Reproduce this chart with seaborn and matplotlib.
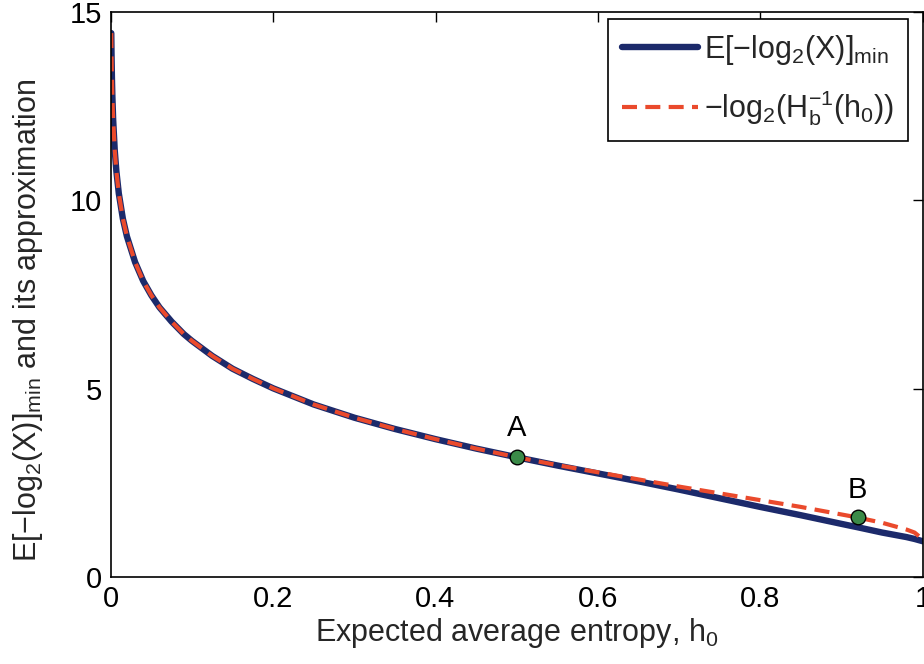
import numpy as np
import pandas as pd
import matplotlib
matplotlib.use("Agg")
import matplotlib.pyplot as plt
import seaborn as sns

# ---- data ----
h0 = [0.0007, 0.001, 0.0015, 0.002, 0.003, 0.005, 0.007, 0.01, 0.015, 0.02, 0.03,
      0.04, 0.05, 0.06, 0.075, 0.09, 0.1, 0.125, 0.15, 0.175, 0.2, 0.25,
      0.3, 0.35, 0.4, 0.45, 0.5, 0.55, 0.6, 0.65, 0.7, 0.75, 0.8, 0.85, 0.9,
      0.92, 0.95, 0.98, 0.99, 1.0]
approx_vals = [14.44, 13.91, 13.26, 12.80, 12.15, 11.32, 10.77, 10.18, 9.51, 9.04, 8.36,
               7.86, 7.48, 7.16, 6.78, 6.45, 6.27, 5.87, 5.53, 5.26, 5.01, 4.58,
               4.23, 3.93, 3.66, 3.41, 3.18, 2.97, 2.78, 2.59, 2.40, 2.22,
               2.04, 1.86, 1.66, 1.58, 1.44, 1.26, 1.18, 1.00]
emin_vals = [14.44, 13.91, 13.26, 12.80, 12.15, 11.32, 10.77, 10.18, 9.51, 9.04, 8.36,
             7.86, 7.48, 7.16, 6.78, 6.45, 6.27, 5.87, 5.53, 5.26, 5.01, 4.58,
             4.23, 3.93, 3.66, 3.41, 3.18, 2.96, 2.75, 2.54, 2.32, 2.09,
             1.86, 1.64, 1.41, 1.32, 1.18, 1.06, 1.01, 0.95]
point_x = [0.5, 0.92]
point_y = [3.18, 1.58]
point_labels = ["A", "B"]
label_offsets = [0.78, 0.72]
x_ticks = [0, 0.2, 0.4, 0.6, 0.8, 1.0]
x_ticklabels = ["0", "0.2", "0.4", "0.6", "0.8", "1"]
y_ticks = [0, 5, 10, 15]

sns.set_theme(style="white")
plt.rcParams["font.family"] = ["Liberation Sans", "DejaVu Sans"]
plt.rcParams["mathtext.fontset"] = "custom"
plt.rcParams["mathtext.rm"] = "Liberation Sans"
plt.rcParams["mathtext.it"] = "Liberation Sans"
plt.rcParams["mathtext.default"] = "regular"

FS = 21
fig = plt.figure(figsize=(9.24, 6.64), dpi=100)
ax = fig.add_axes([110.7 / 924, 1 - 577 / 664, 812 / 924, 565 / 664])

df = pd.DataFrame({"h0": h0, "emin": emin_vals, "approx": approx_vals})
sns.lineplot(data=df, x="h0", y="emin", ax=ax, color="#1c2a6b", lw=4.6,
             label=r"$E[-log_2(X)]_{min}$", sort=False)
sns.lineplot(data=df, x="h0", y="approx", ax=ax, color="#ea4a2c", lw=3.0,
             linestyle=(0, (3.6, 2.0)), label=r"$-log_2(H_b^{-1}(h_0))$", sort=False)
sns.scatterplot(x=point_x, y=point_y, ax=ax, color="#3b8a48", edgecolor="black",
                s=110, linewidth=1.0, zorder=5, legend=False)
for px, py, lab, off in zip(point_x, point_y, point_labels, label_offsets):
    ax.text(px, py + off, lab, ha="center", va="center", fontsize=FS, color="black")

ax.set_xlim(0, 1)
ax.set_ylim(0, 15)
ax.set_xticks(x_ticks)
ax.set_xticklabels(x_ticklabels)
ax.set_yticks(y_ticks)
ax.tick_params(direction="in", length=7, width=1.0, top=True, right=True,
               labelsize=FS, colors="black", pad=6)
for s in ax.spines.values():
    s.set_color("black")
    s.set_linewidth(1.2)

ax.set_xlabel(r"Expected average entropy, $h_0$", fontsize=FS + 1, labelpad=2)
ax.set_ylabel(r"$E[-log_2(X)]_{min}$ and its approximation", fontsize=FS + 1)
ax.yaxis.set_label_coords(-0.081, 0.455)

leg = ax.legend(loc="upper right", bbox_to_anchor=(0.982, 0.988), borderaxespad=0,
                fontsize=FS + 1, handlelength=2.5, handletextpad=0.2,
                fancybox=False, framealpha=1, edgecolor="black", labelspacing=0.7,
                borderpad=0.45)
leg.get_frame().set_linewidth(1.2)

fig.savefig("out.png", dpi=100)
